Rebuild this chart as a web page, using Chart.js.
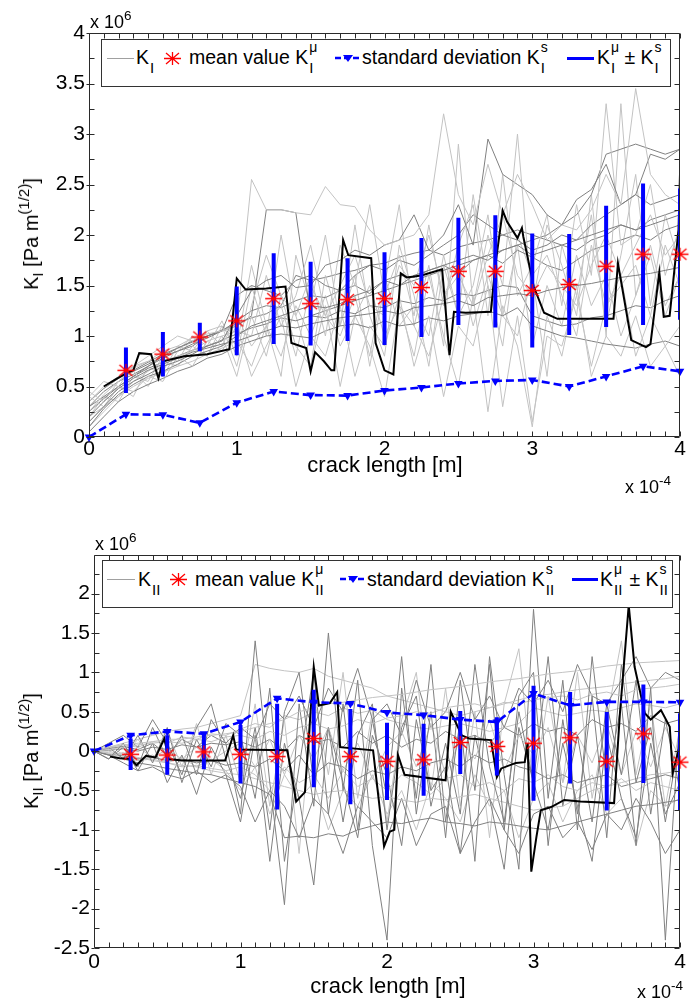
<!DOCTYPE html>
<html>
<head>
<meta charset="utf-8">
<title>K_I and K_II versus crack length</title>
<script src="https://cdn.jsdelivr.net/npm/chart.js@4.4.1/dist/chart.umd.min.js"></script>
<style>
html,body{margin:0;padding:0;background:#fff;}
#page{position:relative;width:689px;height:1007px;overflow:hidden;background:#fff;font-family:"Liberation Sans",Arial,Helvetica,sans-serif;color:#000;}
canvas{position:absolute;left:0;display:block;}
.t{position:absolute;white-space:nowrap;line-height:1;}
.lg{font-size:19.5px;}
.box{position:absolute;border:1px solid #333;background:#fff;box-sizing:border-box;}
.ln{position:absolute;height:0;}
.ss{display:inline-block;position:relative;height:1px;vertical-align:baseline;}
.ss .up{position:absolute;left:1px;bottom:10px;font-size:14px;line-height:1;}
.ss .dn{position:absolute;left:1px;top:-3px;font-size:15px;line-height:1;}
.ytitle{position:absolute;font-size:20px;line-height:1;white-space:nowrap;transform:translate(-50%,-50%) rotate(-90deg);}
.xtitle{position:absolute;font-size:22px;line-height:1;white-space:nowrap;transform:translateX(-50%);}
.expo{position:absolute;font-size:18px;line-height:1;white-space:nowrap;}
.sup{position:relative;top:-0.6em;font-size:0.75em;}
.sub{position:relative;top:0.35em;font-size:0.75em;}
</style>
</head>
<body>
<div id="page">
  <canvas id="cTop" width="689" height="500" style="top:0;width:689px;height:500px"></canvas>
  <canvas id="cBot" width="689" height="507" style="top:500px;width:689px;height:507px"></canvas>

  <!-- top chart texts -->
  <div class="expo" style="left:90px;top:13px">x 10<span class="sup">6</span></div>
  <div class="ytitle" style="left:31px;top:234px">K<span class="sub">I</span> [Pa m<span class="sup">(1/2)</span>]</div>
  <div class="xtitle" style="left:385px;top:454px">crack length [m]</div>
  <div class="expo" style="left:625px;top:478px">x 10<span class="sup">-4</span></div>

  <div class="box" style="left:101px;top:39px;width:570px;height:48px"></div>
  <div class="ln" style="left:107px;top:58px;width:27px;border-top:1px solid #a0a0a0"></div>
  <div class="t lg" style="left:136px;top:48px">K<span class="ss" style="width:6px"><span class="dn">I</span></span></div>
  <svg class="t" style="left:163px;top:51px" width="19" height="15"><path d="M1 7.5H18M9.5 1V14M3 2L16 13M16 2L3 13" stroke="#ff0000" stroke-width="1.3" fill="none"/></svg>
  <div class="t lg" style="left:189px;top:48px">mean value K<span class="ss" style="width:9px"><span class="up">μ</span><span class="dn">I</span></span></div>
  <svg class="t" style="left:335px;top:52px" width="26" height="12"><path d="M0 6H26" stroke="#0000ff" stroke-width="2.5" stroke-dasharray="6,3"/><path d="M8 3H18L13 10Z" fill="#0000ff"/></svg>
  <div class="t lg" style="left:362px;top:48px">standard deviation K<span class="ss" style="width:9px"><span class="up">s</span><span class="dn">I</span></span></div>
  <div class="ln" style="left:567px;top:57px;width:27px;border-top:3px solid #0000ff"></div>
  <div class="t lg" style="left:597px;top:48px">K<span class="ss" style="width:9px"><span class="up">μ</span><span class="dn">I</span></span> ± K<span class="ss" style="width:9px"><span class="up">s</span><span class="dn">I</span></span></div>

  <!-- bottom chart texts -->
  <div class="expo" style="left:95px;top:535px">x 10<span class="sup">6</span></div>
  <div class="ytitle" style="left:31px;top:751px">K<span class="sub">II</span> [Pa m<span class="sup">(1/2)</span>]</div>
  <div class="xtitle" style="left:388px;top:975px">crack length [m]</div>
  <div class="expo" style="left:637px;top:983px">x 10<span class="sup">-4</span></div>

  <div class="box" style="left:102px;top:560px;width:571px;height:48px"></div>
  <div class="ln" style="left:107px;top:579px;width:28px;border-top:1px solid #a0a0a0"></div>
  <div class="t lg" style="left:138px;top:570px">K<span class="ss" style="width:11px"><span class="dn">II</span></span></div>
  <svg class="t" style="left:169px;top:572px" width="19" height="15"><path d="M1 7.5H18M9.5 1V14M3 2L16 13M16 2L3 13" stroke="#ff0000" stroke-width="1.3" fill="none"/></svg>
  <div class="t lg" style="left:195px;top:570px">mean value K<span class="ss" style="width:11px"><span class="up">μ</span><span class="dn">II</span></span></div>
  <svg class="t" style="left:340px;top:573px" width="26" height="12"><path d="M0 6H26" stroke="#0000ff" stroke-width="2.5" stroke-dasharray="6,3"/><path d="M8 3H18L13 10Z" fill="#0000ff"/></svg>
  <div class="t lg" style="left:367px;top:570px">standard deviation K<span class="ss" style="width:11px"><span class="up">s</span><span class="dn">II</span></span></div>
  <div class="ln" style="left:572px;top:578px;width:26px;border-top:3px solid #0000ff"></div>
  <div class="t lg" style="left:600px;top:570px">K<span class="ss" style="width:11px"><span class="up">μ</span><span class="dn">II</span></span> ± K<span class="ss" style="width:11px"><span class="up">s</span><span class="dn">II</span></span></div>
</div>

<script>
// ---------------- DATA ----------------
// crack length grid (x 10^-4 m) for the individual realisations
const crackGrid = [0,0.1,0.2,0.3,0.4,0.5,0.6,0.7,0.8,0.9,1,1.1,1.2,1.3,1.4,1.5,1.6,1.7,1.8,1.9,2,2.1,2.2,2.3,2.4,2.5,2.6,2.7,2.8,2.9,3,3.1,3.2,3.3,3.4,3.5,3.6,3.7,3.8,3.9,4];
// statistics sample positions
const sampleX = [0,0.25,0.5,0.75,1,1.25,1.5,1.75,2,2.25,2.5,2.75,3,3.25,3.5,3.75,4];

// tick values
const xTickVals = [0,1,2,3,4];
const yTickValsKI = [0,0.5,1,1.5,2,2.5,3,3.5,4];
const yTickValsKII = [-2.5,-2,-1.5,-1,-0.5,0,0.5,1,1.5,2];

// K_I statistics (x 10^6 Pa m^1/2)
const meanKI = [null,0.66,0.82,0.99,1.15,1.37,1.32,1.36,1.37,1.48,1.64,1.64,1.45,1.51,1.69,1.81,1.81];
const stdKI  = [0,0.225,0.22,0.14,0.34,0.45,0.415,0.41,0.46,0.49,0.53,0.555,0.565,0.50,0.60,0.70,0.65];

// K_II statistics
const meanKII = [null,-0.04,-0.05,-0.01,-0.04,-0.07,0.16,-0.07,-0.13,-0.11,0.11,0.06,0.10,0.17,-0.13,0.22,-0.14];
const stdKII  = [0,0.20,0.25,0.22,0.37,0.67,0.62,0.605,0.49,0.457,0.40,0.37,0.73,0.58,0.625,0.625,0.62];

// highlighted realisation, K_I
const blackKI_x = [0.10,0.18,0.25,0.30,0.34,0.42,0.47,0.50,0.645,0.80,0.95,1.00,1.06,1.20,1.33,1.37,1.47,1.50,1.53,1.59,1.64,1.66,1.72,1.755,1.91,1.94,2.00,2.06,2.11,2.15,2.25,2.39,2.44,2.47,2.55,2.72,2.75,2.80,2.83,2.90,2.93,2.94,3.01,3.08,3.17,3.55,3.58,3.67,3.77,3.80,3.86,3.89,3.93,3.99,4.00];
const blackKI_y = [0.50,0.57,0.63,0.66,0.83,0.82,0.58,0.75,0.80,0.82,0.87,1.57,1.46,1.47,1.49,0.93,0.88,0.65,0.84,0.75,0.66,0.66,1.95,1.80,1.77,0.93,0.66,0.62,1.62,1.58,1.60,1.66,0.81,1.24,1.23,1.24,1.70,2.24,2.13,1.97,2.07,1.98,1.49,1.23,1.17,1.17,1.72,0.96,0.89,0.92,1.63,1.19,1.20,2.05,2.60];

// highlighted realisation, K_II
const blackKII_x = [0.11,0.175,0.25,0.29,0.355,0.42,0.48,0.51,0.60,0.895,0.95,0.97,1.32,1.38,1.44,1.50,1.535,1.61,1.66,1.68,1.905,1.98,2.02,2.05,2.075,2.12,2.40,2.435,2.51,2.56,2.71,2.75,2.78,2.88,2.94,2.96,2.985,3.02,3.05,3.12,3.21,3.32,3.55,3.59,3.65,3.69,3.76,3.80,3.87,3.93,3.95,3.99,4.00];
const blackKII_y = [-0.07,-0.09,-0.10,-0.18,-0.06,-0.08,0.16,-0.10,-0.12,-0.12,0.20,0.02,0.01,-0.64,-0.52,1.07,0.58,0.61,0.75,0.05,0.01,-1.21,-1.02,-1.00,-0.05,-0.30,-0.37,0.50,0.20,0.16,0.14,-0.33,-0.22,-0.15,-0.14,0.10,-1.53,-1.09,-0.75,-0.71,-0.62,-0.64,-0.66,0.48,1.85,1.07,0.48,0.40,0.52,0.31,-0.28,0.01,-0.15];

// individual realisations, K_I (values on crackGrid)
const grayKI_1  = [0.20,0.35,0.48,0.58,0.66,0.72,0.78,0.84,0.88,0.92,0.95,1.00,1.05,1.10,1.08,1.12,1.15,1.18,1.20,1.22,1.25,1.22,1.28,1.30,1.32,1.35,1.30,1.38,1.40,1.42,1.40,1.45,1.48,1.50,1.52,1.55,1.58,1.60,1.62,1.65,1.68];
const grayKI_2  = [0.25,0.42,0.55,0.68,0.75,0.85,0.90,0.98,1.02,1.05,1.10,2.55,2.25,2.25,2.22,2.20,2.48,2.30,2.28,2.05,1.90,1.95,2.00,2.20,3.20,2.40,2.10,2.70,2.20,2.60,2.30,1.95,2.10,2.05,2.25,2.60,2.30,3.45,2.60,2.40,2.30];
const grayKI_3  = [0.15,0.30,0.45,0.55,0.62,0.70,0.75,0.82,0.90,0.95,1.20,1.45,1.55,1.60,1.48,1.50,1.70,1.75,1.85,1.80,1.90,1.95,2.20,1.85,2.00,2.30,1.90,2.95,2.60,2.50,2.40,2.20,2.10,2.35,2.45,2.70,2.30,2.40,2.80,2.75,2.85];
const grayKI_4  = [0.40,0.30,0.50,0.45,0.60,0.55,0.80,0.70,0.95,0.85,1.10,0.60,0.90,1.20,0.50,1.00,0.80,1.30,0.60,1.10,0.90,1.40,0.70,1.20,0.40,1.10,0.90,1.50,0.30,1.20,0.15,1.00,0.90,1.40,0.70,1.30,1.60,0.80,1.20,0.90,1.10];
const grayKI_5  = [0.10,0.28,0.42,0.52,0.60,0.65,0.72,0.80,0.85,0.90,1.00,1.10,1.15,1.20,1.25,1.30,1.28,1.32,1.40,1.45,1.55,1.50,1.60,1.65,1.70,1.75,1.80,1.75,1.85,1.90,1.80,1.85,1.90,1.95,2.00,2.05,2.10,2.05,2.10,2.15,2.20];
const grayKI_6  = [0.35,0.50,0.60,0.70,0.80,0.90,1.00,0.95,1.05,1.10,0.70,1.30,1.80,1.40,1.20,1.60,1.00,1.90,1.50,2.30,1.40,1.80,1.20,2.10,1.30,1.90,2.30,1.20,2.60,1.40,1.70,2.20,1.30,2.30,1.60,3.30,1.90,2.00,2.50,1.60,2.10];
const grayKI_7  = [0.05,0.20,0.35,0.45,0.52,0.58,0.65,0.70,0.78,0.82,0.90,0.95,1.00,1.02,1.00,0.98,1.05,1.10,1.12,1.08,1.15,1.10,1.12,1.18,1.15,1.20,1.22,1.25,1.20,1.28,1.10,1.05,1.00,0.98,0.95,0.92,0.90,0.88,0.92,0.95,0.90];
const grayKI_8  = [0.45,0.35,0.55,0.65,0.50,0.75,0.70,0.90,0.80,1.00,0.60,1.20,0.80,1.40,0.90,0.70,1.30,0.50,1.20,0.90,0.40,1.30,0.80,1.60,1.00,0.50,1.40,0.25,1.30,0.90,0.10,1.20,0.80,1.50,0.60,1.00,0.80,1.20,0.70,0.90,0.60];
const grayKI_9  = [0.30,0.40,0.50,0.60,0.70,0.80,0.85,0.90,1.00,1.05,1.40,1.50,1.45,1.40,1.55,1.60,1.50,1.45,1.60,1.70,1.65,1.75,1.70,1.80,1.90,2.00,2.20,2.10,2.00,1.95,1.85,1.90,2.00,1.95,2.10,2.20,2.30,2.40,2.30,2.35,2.40];
const grayKI_10 = [0.20,0.30,0.40,0.55,0.65,0.75,0.80,0.85,0.95,1.00,1.05,1.00,1.60,1.10,1.40,1.90,1.20,1.50,1.80,1.30,1.20,1.70,1.50,2.00,1.40,1.60,1.30,1.80,2.20,1.60,1.40,1.70,1.50,1.30,1.70,2.00,1.60,1.90,2.20,1.80,2.00];
const grayKI_11 = [null,null,0.55,0.65,0.72,0.80,0.88,0.95,1.00,1.05,1.10,1.20,2.25,2.25,2.22,1.20,1.25,1.30,1.35,1.40,1.45,1.50,1.55,1.60,1.65,1.70,1.75,1.80,1.85,1.90,1.95,2.00,2.10,2.20,2.40,2.80,2.85,2.90,2.85,2.80,2.85];
const grayKI_12 = [0.40,0.55,0.50,0.70,0.75,0.65,0.90,0.85,1.05,0.90,1.20,0.90,1.10,1.30,0.80,1.50,1.20,1.00,1.40,0.80,1.60,1.10,1.30,1.00,1.80,1.20,1.50,2.20,1.20,1.00,1.60,1.80,1.40,1.00,1.90,1.30,1.50,1.70,1.20,1.90,1.50];
const grayKI_13 = [0.25,0.38,0.50,0.60,0.68,0.74,0.80,0.86,0.90,0.96,1.02,1.08,1.12,1.18,1.15,1.20,1.18,1.25,1.22,1.30,1.28,1.35,1.32,1.38,1.35,1.42,1.40,1.45,1.50,1.48,1.20,1.15,1.10,1.12,1.18,1.20,1.25,1.30,1.28,1.35,1.40];
const grayKI_14 = [0.15,0.30,0.50,0.40,0.70,0.60,0.85,1.00,0.80,1.10,0.90,1.70,1.10,0.60,1.80,1.30,2.00,1.10,1.60,0.70,1.50,2.30,1.10,1.70,0.90,2.90,1.30,2.00,1.50,3.00,1.30,2.10,1.70,1.20,2.40,1.00,3.30,1.40,1.80,1.20,1.60];
const grayKI_15 = [0.30,0.45,0.55,0.62,0.70,0.78,0.85,0.92,0.98,1.05,1.15,1.25,1.30,1.28,1.35,1.40,1.38,1.45,1.50,1.42,1.55,1.60,1.58,1.65,1.70,1.62,1.75,1.80,1.72,1.85,1.78,1.70,1.65,1.75,1.85,1.90,1.95,2.00,1.95,2.05,2.10];
const grayKI_16 = [0.20,0.40,0.35,0.60,0.55,0.80,0.75,1.00,0.90,1.15,0.80,1.50,1.00,2.00,1.20,0.70,1.60,1.10,2.10,1.20,0.80,1.90,1.40,0.70,1.70,1.20,2.40,1.50,0.90,2.00,1.60,0.60,1.90,1.40,2.20,1.10,1.80,2.60,1.30,2.20,1.70];
const grayKI_17 = [0.35,0.48,0.58,0.66,0.74,0.82,0.88,0.94,1.00,1.06,1.12,1.18,1.22,1.30,1.60,1.55,1.58,1.62,1.65,1.70,1.72,1.78,1.82,1.85,1.80,1.88,1.92,1.95,2.00,2.05,2.00,1.95,1.90,1.85,1.95,2.00,2.10,2.05,2.15,2.20,2.25];
const grayKI_18 = [0.10,0.25,0.40,0.50,0.58,0.64,0.70,0.75,0.82,0.88,0.95,0.70,1.10,0.80,1.30,1.00,1.40,0.90,1.20,1.50,1.00,1.30,1.10,0.80,1.40,1.70,1.10,1.60,1.20,1.90,0.90,1.50,1.10,1.80,1.30,1.60,1.00,1.40,1.90,1.30,1.60];

// individual realisations, K_II
const grayKII_1  = [0,-0.05,-0.10,-0.15,-0.18,-0.22,-0.25,-0.28,-0.30,-0.35,-0.40,-0.45,-0.55,-1.10,-1.08,-1.10,-1.05,-1.08,-1.00,-0.95,-0.90,-0.92,-0.88,-0.85,-0.90,-0.92,-0.95,-0.90,-0.92,-0.95,-0.98,-1.00,-0.95,-0.90,-0.85,-0.80,-0.75,-0.70,-0.68,-0.65,-0.62];
const grayKII_2  = [0,0.05,0.08,0.10,0.12,0.15,0.15,0.18,0.20,0.22,0.25,0.30,0.35,0.40,0.50,0.55,0.60,0.62,0.65,0.68,0.70,0.72,0.75,0.78,0.80,0.82,0.85,0.88,0.90,0.92,0.95,0.98,1.00,1.02,1.05,1.08,1.10,1.12,1.13,1.14,1.15];
const grayKII_3  = [0,-0.10,0.10,-0.20,0.30,-0.10,0.20,-0.30,0.40,0.10,-0.80,1.40,-0.40,-1.95,0.60,-0.70,1.50,-0.50,0.90,-1.20,-2.40,0.80,-0.60,1.10,-0.90,0.40,-1.40,1.20,-0.30,-1.50,1.80,-0.60,0.90,-1.00,1.20,-0.40,0.60,-1.20,0.80,-2.40,0.50];
const grayKII_4  = [0,0.02,0.05,0.08,0.10,0.12,0.10,0.15,0.12,0.18,0.20,0.15,0.25,0.20,0.30,0.35,0.28,0.32,0.40,0.35,0.42,0.45,0.50,0.48,0.55,0.58,0.60,0.55,0.62,0.60,0.65,0.68,0.70,0.65,0.72,0.75,0.70,0.78,0.80,0.82,0.85];
const grayKII_5  = [0,0.05,-0.10,0.20,-0.15,0.30,-0.40,0.15,-0.20,0.35,0.20,-0.60,0.80,-1.40,-0.20,1.00,-0.80,0.60,-1.00,0.40,-0.60,1.20,-0.80,0.50,-1.10,0.90,-0.50,1.10,-1.00,0.70,1.00,-1.20,0.40,-0.80,0.70,-1.10,1.10,-0.40,0.30,-0.90,0.20];
const grayKII_6  = [0,-0.02,-0.05,-0.08,-0.12,-0.15,-0.18,-0.20,-0.25,-0.28,-0.30,-0.35,-0.40,-0.45,-0.50,-0.55,-0.52,-0.50,-0.55,-0.60,-0.58,-0.62,-0.65,-0.60,-0.62,-0.58,-0.55,-0.60,-0.65,-0.70,-0.75,-0.72,-0.70,-0.60,-0.50,-0.45,-0.40,-0.35,-0.30,-0.28,-0.25];
const grayKII_7  = [0,0.10,0.20,0.05,0.40,0.10,-0.30,0.30,0.60,-0.10,-0.60,0.30,-1.00,0.50,1.00,-0.40,0.30,-0.90,0.20,0.60,-1.00,0.30,0.70,-0.70,0.10,-0.80,1.10,-0.20,-0.90,0.50,-0.40,1.20,-0.70,0.20,-0.90,0.60,-0.30,0.90,-0.80,0.40,-0.50];
const grayKII_8  = [0,0.00,-0.05,0.05,-0.08,0.02,-0.10,0.05,-0.12,0.00,0.10,-0.20,0.15,-0.30,0.20,-0.10,0.30,-0.25,0.10,-0.35,0.05,0.25,-0.20,0.35,-0.30,0.15,-0.10,0.40,-0.25,0.20,-0.05,0.30,-0.40,0.20,-0.15,0.35,-0.30,0.25,-0.20,0.30,-0.10];
const grayKII_9  = [0,-0.05,-0.15,-0.25,-0.20,-0.30,-0.35,-0.25,-0.40,-0.30,-0.45,-0.90,-0.50,-0.70,-1.10,-0.60,-0.80,-1.30,-0.70,-0.90,-1.10,-0.60,-1.20,-0.80,-0.70,-1.30,-0.90,-0.60,-1.00,-1.30,-0.80,-0.70,-1.10,-0.90,-1.25,-0.80,-1.00,-0.60,-0.90,-1.30,-1.00];
const grayKII_10 = [0,0.05,0.10,0.15,0.20,0.25,0.28,0.30,0.35,0.40,0.45,1.10,1.05,1.02,1.00,1.05,0.95,0.90,0.85,0.80,0.70,0.65,0.60,0.55,0.50,0.45,0.50,0.55,0.60,0.65,0.70,0.72,0.75,0.78,0.80,0.82,0.85,0.88,0.90,0.92,0.95];
const grayKII_11 = [0,0.03,0.06,0.02,0.10,-0.05,0.15,0.05,0.20,0.10,0.30,0.15,0.60,0.40,0.70,0.30,0.80,0.50,1.05,0.40,0.60,0.20,0.90,0.30,0.50,1.00,0.40,0.70,0.30,0.80,0.60,0.90,0.50,1.10,0.70,0.60,0.90,1.20,0.80,1.00,0.90];
const grayKII_12 = [0,-0.03,-0.08,-0.12,-0.10,-0.15,-0.20,-0.18,-0.22,-0.25,-0.20,-0.30,-0.50,-0.20,-0.40,-0.30,-0.60,-0.25,-0.45,-0.35,-0.50,-0.30,-0.40,-0.55,-0.35,-0.30,-0.45,-0.40,-0.50,-0.35,-0.40,-0.30,-0.45,-0.50,-0.40,-0.45,-0.35,-0.50,-0.40,-0.45,-0.50];
const grayKII_13 = [0,-0.10,0.05,-0.25,0.10,-0.40,-0.05,-0.55,0.05,-0.30,-0.90,0.20,-1.40,0.10,-0.60,-1.70,0.30,-0.40,-1.10,0.20,-0.30,-1.20,0.40,-0.50,-0.20,-1.30,0.20,-0.60,-1.50,0.30,-0.40,-1.00,0.10,-0.70,-1.40,0.20,-0.60,-1.10,0.10,-0.80,-0.40];
const grayKII_14 = [0,0.04,0.08,0.05,0.12,0.10,0.18,0.15,0.22,0.20,0.28,0.35,0.30,0.45,0.40,0.50,0.45,0.55,0.48,0.52,0.40,0.35,0.30,0.28,0.32,0.35,0.30,0.25,0.30,0.35,0.55,0.50,0.45,0.48,0.52,0.50,0.55,0.60,0.58,0.55,0.60];
const grayKII_15 = [0,-0.04,-0.06,-0.10,-0.08,-0.12,-0.10,-0.15,-0.12,-0.18,-0.15,-0.20,-0.10,-0.25,-0.05,-0.30,-0.15,-0.20,-0.35,-0.25,-0.30,-0.20,-0.25,-0.15,-0.10,-0.20,-0.05,-0.15,-0.10,-0.20,-0.25,-0.35,-0.30,-0.40,-0.35,-0.30,-0.45,-0.40,-0.35,-0.30,-0.35];
const grayKII_16 = [0,0.08,-0.05,0.15,-0.12,0.25,-0.20,0.35,-0.30,0.20,-0.40,0.60,-0.70,0.40,-1.30,0.70,-0.30,1.00,-0.60,0.50,-0.90,0.40,1.00,-0.50,0.80,-0.70,0.50,-1.10,0.60,1.30,-0.50,0.70,-0.40,1.00,-0.60,0.40,1.40,-0.30,0.60,-0.70,0.30];
const grayKII_17 = [0,0.01,0.03,0.00,0.05,0.02,0.08,0.05,0.10,0.08,0.12,0.05,0.15,0.00,0.20,0.10,0.15,0.05,0.25,0.10,0.20,0.05,0.15,0.10,0.25,0.15,0.20,0.10,0.30,0.20,0.35,0.25,0.30,0.20,0.40,0.30,0.35,0.25,0.45,0.35,0.40];
const grayKII_18 = [0,-0.05,-0.02,-0.10,-0.05,-0.15,-0.08,-0.20,-0.10,-0.25,-0.50,-0.20,-0.80,-0.30,-0.60,-0.40,-1.00,-0.50,-0.70,-0.30,-0.80,-0.50,-1.00,-0.40,-0.60,-0.90,-0.30,-0.70,-0.50,-1.10,-0.60,-0.40,-0.90,-0.50,-0.30,-0.80,-0.60,-1.20,-0.50,-0.70,-0.60];

const grayKI  = [grayKI_1,grayKI_2,grayKI_3,grayKI_4,grayKI_5,grayKI_6,grayKI_7,grayKI_8,grayKI_9,grayKI_10,grayKI_11,grayKI_12,grayKI_13,grayKI_14,grayKI_15,grayKI_16,grayKI_17,grayKI_18];
const grayKII = [grayKII_1,grayKII_2,grayKII_3,grayKII_4,grayKII_5,grayKII_6,grayKII_7,grayKII_8,grayKII_9,grayKII_10,grayKII_11,grayKII_12,grayKII_13,grayKII_14,grayKII_15,grayKII_16,grayKII_17,grayKII_18];

// ---------------- STYLE / RENDERING ----------------
const FONT = '"Liberation Sans", Arial, Helvetica, sans-serif';
const DARK_GRAY = '#808080', LIGHT_GRAY = '#c3c3c3';
const BLUE = '#0000ff', RED = '#ff0000';
const TICK_FONT = 21;

function starImage(){
  const c = document.createElement('canvas');
  c.width = 19; c.height = 15;
  const g = c.getContext('2d');
  g.strokeStyle = RED; g.lineWidth = 1.3;
  g.beginPath();
  g.moveTo(1,7.5); g.lineTo(18,7.5);
  g.moveTo(9.5,1); g.lineTo(9.5,14);
  g.moveTo(3,2); g.lineTo(16,13);
  g.moveTo(16,2); g.lineTo(3,13);
  g.stroke();
  return c;
}
const STAR = starImage();

const axisDecor = {
  id: 'axisDecor',
  afterDraw(chart){
    const ctx = chart.ctx, a = chart.chartArea, x = chart.scales.x, y = chart.scales.y;
    const L = Math.round(a.left)+0.5, R = Math.round(a.right)-0.5, T = Math.round(a.top)+0.5, B = Math.round(a.bottom)-0.5;
    ctx.save();
    ctx.strokeStyle = '#2a2a2a'; ctx.lineWidth = 1;
    ctx.beginPath();
    ctx.rect(L, T, R-L, B-T);
    const len = 5;
    for (let i = Math.round(x.min*10); i <= Math.round(x.max*10); i++){
      const px = Math.round(x.getPixelForValue(i/10))+0.5;
      ctx.moveTo(px,B); ctx.lineTo(px,B-len);
      ctx.moveTo(px,T); ctx.lineTo(px,T+len);
    }
    for (let j = Math.ceil(y.min*4); j <= Math.floor(y.max*4); j++){
      const py = Math.round(y.getPixelForValue(j/4))+0.5;
      ctx.moveTo(L,py); ctx.lineTo(L+len,py);
      ctx.moveTo(R,py); ctx.lineTo(R-len,py);
      if (j % 2 === 0){ ctx.moveTo(L-3,py); ctx.lineTo(L,py); }
    }
    ctx.stroke();
    ctx.restore();
  }
};

function pairs(xs, ys){ return xs.map((x,i)=>({x:x, y:ys[i]})); }
function errorBarPoints(xs, mean, std){
  const pts = [];
  xs.forEach((x,i)=>{
    if (mean[i] === null) return;
    pts.push({x:x, y:mean[i]-std[i]}, {x:x, y:mean[i]+std[i]}, {x:x, y:null});
  });
  return pts;
}
function meanPoints(xs, mean){
  const pts = [];
  xs.forEach((x,i)=>{ if (mean[i] !== null) pts.push({x:x, y:mean[i]}); });
  return pts;
}

function buildDatasets(grays, blackX, blackY, mean, std){
  const ds = grays.map((ys,i)=>({
    data: pairs(crackGrid, ys), borderColor: i%2===0 ? DARK_GRAY : LIGHT_GRAY,
    borderWidth: 1, pointRadius: 0, spanGaps: false, order: 10
  }));
  ds.push({data: pairs(blackX, blackY), borderColor:'#000', borderWidth:2, pointRadius:0, order:8});
  ds.push({data: errorBarPoints(sampleX, mean, std), borderColor:BLUE, borderWidth:4, borderCapStyle:'butt', pointRadius:0, spanGaps:false, order:6});
  ds.push({data: pairs(sampleX, std), borderColor:BLUE, borderWidth:2.6, borderDash:[8,4], pointStyle:'triangle', pointRotation:180, pointRadius:5, pointBackgroundColor:BLUE, pointBorderColor:BLUE, pointBorderWidth:0, clip:false, order:4});
  ds.push({data: meanPoints(sampleX, mean), showLine:false, pointStyle:STAR, pointRadius:8, borderColor:RED, backgroundColor:RED, clip:false, order:2});
  return ds;
}

function buildChart(canvas, cfg){
  return new Chart(canvas, {
    type: 'line',
    data: { datasets: cfg.datasets },
    options: {
      responsive: false, animation: false, events: [],
      elements: { line: { tension: 0 } },
      layout: { padding: { top: cfg.padTop, right: cfg.padRight, left: 0, bottom: 0 } },
      plugins: { legend: { display: false }, tooltip: { enabled: false } },
      scales: {
        x: {
          type: 'linear', min: 0, max: 4,
          afterBuildTicks: s => { s.ticks = xTickVals.map(v => ({value: v})); },
          afterFit: s => { s.height = cfg.xAxisH; s.paddingLeft = 0; s.paddingRight = 0; },
          grid: { display: false, drawTicks: false }, border: { display: false },
          ticks: { font: { family: FONT, size: TICK_FONT }, color: '#000', padding: cfg.xPad, maxRotation: 0, autoSkip: false, callback: v => String(v) }
        },
        y: {
          type: 'linear', min: cfg.yMin, max: cfg.yMax,
          afterBuildTicks: s => { s.ticks = cfg.yTicks.map(v => ({value: v})); },
          afterFit: s => { s.width = cfg.yAxisW; s.paddingTop = 0; s.paddingBottom = 0; },
          grid: { display: false, drawTicks: false }, border: { display: false },
          ticks: { font: { family: FONT, size: TICK_FONT }, color: '#000', padding: 4, autoSkip: false, callback: v => String(v) }
        }
      }
    },
    plugins: [axisDecor]
  });
}

buildChart(document.getElementById('cTop'), {
  datasets: buildDatasets(grayKI, blackKI_x, blackKI_y, meanKI, stdKI),
  padTop: 33, padRight: 5, xAxisH: 63, yAxisW: 89, xPad: 0,
  yMin: 0, yMax: 4, yTicks: yTickValsKI
});

buildChart(document.getElementById('cBot'), {
  datasets: buildDatasets(grayKII, blackKII_x, blackKII_y, meanKII, stdKII),
  padTop: 55, padRight: 2, xAxisH: 59, yAxisW: 94, xPad: 2,
  yMin: -2.5, yMax: 2.49, yTicks: yTickValsKII
});
</script>
</body>
</html>
